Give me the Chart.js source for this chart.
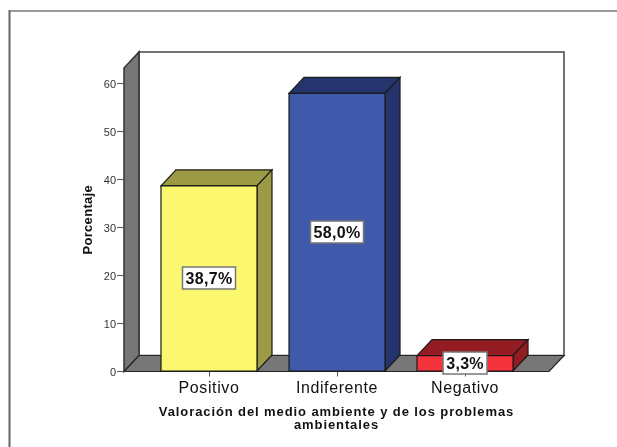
<!DOCTYPE html>
<html><head><meta charset="utf-8">
<style>html,body{margin:0;padding:0;background:#fff;overflow:hidden}canvas{display:block}</style>
<script src="https://cdn.jsdelivr.net/npm/chart.js@4"></script></head>
<body><div style="width:617px;height:447px"><canvas id="c" width="617" height="447"></canvas></div>
<script>
const categories = ['Positivo', 'Indiferente', 'Negativo'];
const percentages = [38.7, 58.0, 3.3];
const frontColors = ['#FBF870', '#3F5AAB', '#F4333C'];
const darkColors = ['#9C9A45', '#26346E', '#921C22'];
const yTicks = [0, 10, 20, 30, 40, 50, 60];
const xTitle = ['Valoración del medio ambiente y de los problemas', 'ambientales'];
const yTitle = 'Porcentaje';
const DX = 15, DY = 16;

function poly(ctx, pts, fill, stroke, lw) {
  ctx.beginPath();
  pts.forEach((p, i) => i ? ctx.lineTo(p[0], p[1]) : ctx.moveTo(p[0], p[1]));
  ctx.closePath();
  if (fill) { ctx.fillStyle = fill; ctx.fill(); }
  if (stroke) { ctx.strokeStyle = stroke; ctx.lineWidth = lw || 1; ctx.stroke(); }
}
function spaced(scale, method, ls, dy) {
  const orig = scale[method];
  scale[method] = function () {
    const c = this.ctx, old = c.letterSpacing;
    c.save();
    c.letterSpacing = ls;
    c.translate(0, dy || 0);
    orig.apply(this, arguments);
    c.restore();
    c.letterSpacing = old;
  };
}
const scene = {
  id: 'scene',
  afterUpdate(chart) {
    spaced(chart.scales.x, 'drawLabels', '0.6px');
    spaced(chart.scales.x, 'drawTitle', '0.9px');
    spaced(chart.scales.y, 'drawTitle', '0.3px');
    spaced(chart.scales.y, 'drawLabels', '0px', 1);
  },
  beforeDraw(chart) {
    const c = chart.ctx, a = chart.chartArea;
    c.save();
    c.strokeStyle = '#9a9a9a'; c.lineWidth = 2;
    c.beginPath(); c.moveTo(10, 11); c.lineTo(617, 11); c.stroke();
    c.strokeStyle = '#666'; c.lineWidth = 2;
    c.beginPath(); c.moveTo(9.5, 10); c.lineTo(9.5, 447); c.stroke();
    const l = a.left, r = a.right, t = a.top, b = a.bottom;
    poly(c, [[l + DX, t - DY], [r + DX, t - DY], [r + DX, b - DY], [l + DX, b - DY]], '#fff', '#444', 1.5);
    poly(c, [[l, t], [l + DX, t - DY], [l + DX, b - DY], [l, b]], '#777', '#333', 1.5);
    poly(c, [[l, b], [l + DX, b - DY], [r + DX, b - DY], [r, b]], '#777', '#222', 1.2);
    c.restore();
  },
  afterDatasetsDraw(chart) {
    const c = chart.ctx, meta = chart.getDatasetMeta(0);
    c.save();
    meta.data.forEach((bar, i) => {
      const p = bar.getProps(['x', 'y', 'base', 'width'], true);
      const l = p.x - p.width / 2, r = p.x + p.width / 2, t = p.y, b = p.base;
      poly(c, [[l, t], [l + DX, t - DY], [r + DX, t - DY], [r, t]], darkColors[i], '#1a1a1a', 1.2);
      poly(c, [[r, t], [r + DX, t - DY], [r + DX, b - DY], [r, b]], darkColors[i], '#1a1a1a', 1.2);
      poly(c, [[l, t], [r, t], [r, b], [l, b]], frontColors[i], '#1a1a1a', 1.2);
    });
    meta.data.forEach((bar, i) => {
      const p = bar.getProps(['x', 'y', 'base'], true);
      const txt = percentages[i].toFixed(1).replace('.', ',') + '%';
      c.font = 'bold 16px "Liberation Sans"';
      c.letterSpacing = '0.3px';
      const w = Math.round(c.measureText(txt).width) + 6, h = 22, cx = p.x, cy = Math.round((p.y + p.base) / 2);
      c.fillStyle = '#fff'; c.strokeStyle = '#777'; c.lineWidth = 1.5;
      c.fillRect(cx - w / 2, cy - h / 2, w, h);
      c.strokeRect(cx - w / 2, cy - h / 2, w, h);
      c.fillStyle = '#111'; c.textAlign = 'center'; c.textBaseline = 'middle';
      c.fillText(txt, cx, cy + 2);
    });
    c.restore();
  }
};
new Chart(document.getElementById('c'), {
  type: 'bar',
  data: {
    datasets: [{
      data: categories.map((n, i) => ({ x: i, y: percentages[i] })),
      backgroundColor: 'rgba(0,0,0,0)',
      borderWidth: 0,
      barThickness: 96
    }]
  },
  options: {
    responsive: false, animation: false,
    layout: { padding: { top: 68, right: 68, left: 81, bottom: 15 } },
    plugins: { legend: { display: false }, tooltip: { enabled: false } },
    scales: {
      x: {
        type: 'linear', min: -0.664, max: 2.656, offset: false,
        afterBuildTicks(s) { s.ticks = categories.map((n, i) => ({ value: i })); },
        afterFit(s) { s.height = 60.5; },
        grid: { display: true, offset: false, tickLength: 5, tickColor: '#555', drawOnChartArea: false },
        border: { display: false },
        ticks: { callback: v => categories[v], autoSkip: false, maxRotation: 0, font: { family: 'Liberation Sans', size: 16 }, color: '#111', padding: 2 },
        title: { display: true, text: xTitle, font: { family: 'Liberation Sans', size: 13, weight: 'bold', lineHeight: 1 }, color: '#111', padding: 0 }
      },
      y: {
        min: 0, max: 63.3,
        afterBuildTicks(s) { s.ticks = yTicks.map(v => ({ value: v })); },
        afterFit(s) { s.width = 43; },
        grid: { display: true, drawOnChartArea: false, tickLength: 7, tickColor: '#555' },
        border: { display: false },
        ticks: { font: { family: 'Liberation Sans', size: 11 }, color: '#333', padding: 1 },
        title: { display: true, text: yTitle, font: { family: 'Liberation Sans', size: 13, weight: 'bold' }, color: '#111', padding: 0 }
      }
    }
  },
  plugins: [scene]
});
</script></body></html>
